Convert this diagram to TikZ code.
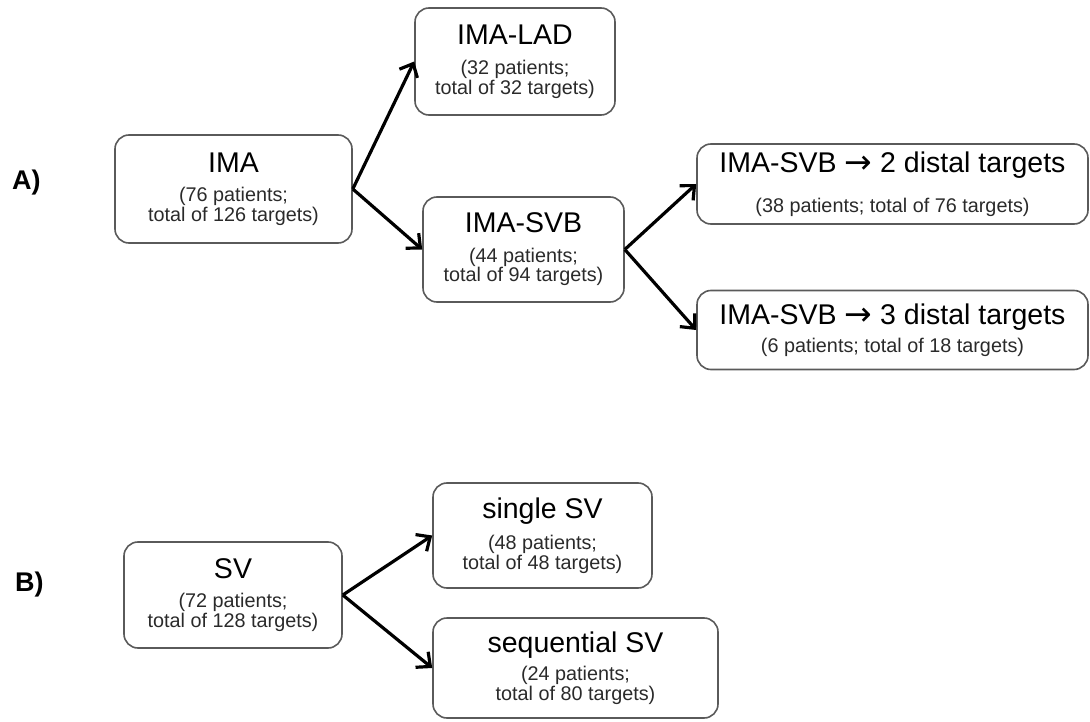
\documentclass[tikz,border=0pt]{standalone}
\usepackage{fontspec}
\setmainfont{Liberation Sans}
\newfontfamily\dejavu{DejaVu Sans}
\usetikzlibrary{arrows.meta}
\definecolor{boxgray}{HTML}{5A5A5A}
\definecolor{subgray}{HTML}{2A2A2A}
\newcommand{\ttl}[1]{{\fontsize{28.5}{30}\selectfont\color{black}#1}}
\newcommand{\bigarr}{{\dejavu\fontsize{33}{30}\selectfont\raisebox{-1.5pt}{→}}}
\begin{document}
\begin{tikzpicture}[x=1pt,y=-1pt,
  gbox/.style={draw=boxgray, line width=1.6pt, rounded corners=14pt, inner sep=0pt,
    align=center, text=subgray, font=\fontsize{19.8}{19.8}\selectfont},
  arr/.style={line width=3.2pt, -{Straight Barb[length=11pt,width=20pt]}},
  lab/.style={anchor=base west, inner sep=0pt, font=\fontsize{27}{30}\selectfont\bfseries}]
\useasboundingbox (0,0) rectangle (1090,722);
\node[lab] (la) at (12,190) {A)};
\node[lab] (lb) at (15,591) {B)};
\node[gbox, minimum width=237pt, minimum height=108pt] (ima) at (233.5,189)
  {\ttl{IMA}\\[9pt](76 patients;\\total of 126 targets)};
\node[gbox, minimum width=200pt, minimum height=107pt] (lad) at (515,61.5)
  {\ttl{IMA-LAD}\\[10pt](32 patients;\\total of 32 targets)};
\node[gbox, minimum width=201pt, minimum height=105pt] (svb) at (523.5,249.5)
  {\ttl{IMA-SVB}\\[9.5pt](44 patients;\\total of 94 targets)};
\node[gbox, minimum width=391pt, minimum height=80pt] (d2) at (892.5,184)
  {\ttl{IMA-SVB \bigarr\ 2 distal targets}\\[19pt](38 patients; total of 76 targets)};
\node[gbox, minimum width=391pt, minimum height=79pt] (d3) at (892.5,330)
  {\ttl{IMA-SVB \bigarr\ 3 distal targets}\\[7pt](6 patients; total of 18 targets)};
\node[gbox, minimum width=218pt, minimum height=106pt] (sv) at (233,595)
  {\ttl{SV}\\[9.5pt](72 patients;\\total of 128 targets)};
\node[gbox, minimum width=219pt, minimum height=105pt] (single) at (542.5,535.5)
  {\ttl{single SV}\\[9.5pt](48 patients;\\total of 48 targets)};
\node[gbox, minimum width=285pt, minimum height=100pt] (seq) at (575.5,668)
  {\ttl{sequential SV}\\[7pt](24 patients;\\total of 80 targets)};
\draw[arr] (ima.east) -- (lad.west);
\draw[arr] (ima.east) -- (svb.west);
\draw[arr] (svb.east) -- (d2.west);
\draw[arr] (svb.east) -- (d3.west);
\draw[arr] (sv.east) -- (single.west);
\draw[arr] (sv.east) -- (seq.west);
\end{tikzpicture}
\end{document}
